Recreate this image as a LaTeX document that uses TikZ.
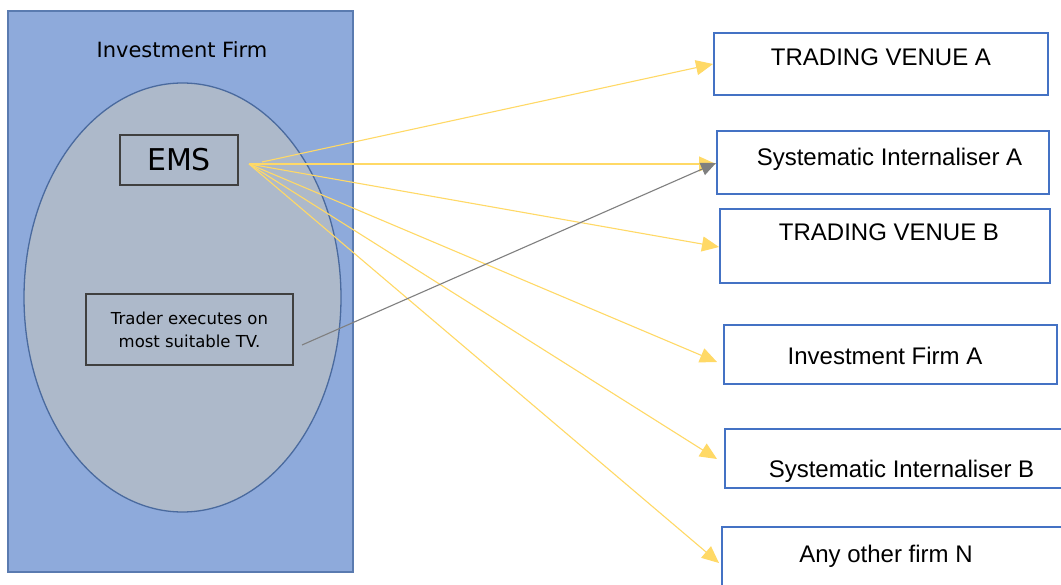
\documentclass[tikz,border=0pt]{standalone}
\usepackage{fontspec}
\setmainfont{Liberation Sans}
\newfontfamily\firmfont{DejaVu Sans}
\usetikzlibrary{arrows.meta,calc,shapes.geometric}
\definecolor{firmblue}{HTML}{8EAADB}
\definecolor{firmedge}{HTML}{5A7BB0}
\definecolor{ovalfill}{HTML}{ADB9CA}
\definecolor{ovaledge}{HTML}{4A6A9E}
\definecolor{boxedge}{HTML}{4472C4}
\definecolor{flowyellow}{HTML}{FFD966}
\definecolor{flowgray}{HTML}{7F7F7F}
\tikzset{
  venue/.style={draw=boxedge, line width=2pt, fill=white, rectangle, inner sep=0pt},
  venuelabel/.style={font=\fontsize{24}{28}\selectfont, inner sep=0pt, anchor=base},
  innerbox/.style={draw=black!75, line width=1.6pt, rectangle, inner sep=0pt},
  yflow/.style={draw=flowyellow, line width=1.1pt, -{Triangle[length=17pt,width=15pt]}},
  gflow/.style={draw=flowgray, line width=1.1pt, -{Triangle[length=15pt,width=13pt]}},
}
\begin{document}
\begin{tikzpicture}[x=1pt,y=-1pt]
\clip (0,0) rectangle (1061,585);
\fill[white] (0,0) rectangle (1061,585);

% investment firm frame and oval
\node[draw=firmedge, line width=1.5pt, fill=firmblue, rectangle, inner sep=0pt,
      minimum width=345pt, minimum height=561pt] (firm) at (180.5,291.5) {};
\node[font=\firmfont\fontsize{21}{24}\selectfont, anchor=base] (firmlabel) at (182,58) {Investment Firm};
\node[draw=ovaledge, line width=1.3pt, fill=ovalfill, ellipse, inner sep=0pt,
      minimum width=317pt, minimum height=429pt] (oval) at (182.5,297.5) {};

% execution management system and trader
\node[innerbox, minimum width=118pt, minimum height=50pt] (ems) at (179,160)
  {\firmfont\fontsize{30}{34}\selectfont EMS};
\node[innerbox, minimum width=207pt, minimum height=71pt, align=center,
      font=\firmfont\fontsize{16.5}{23}\selectfont] (trader) at (189.5,329.5)
  {Trader executes on\\most suitable TV.};

% destination boxes
\node[venue, minimum width=334pt, minimum height=62pt] (tva) at (881,64) {};
\node[venuelabel] (tvalabel) at (881,66) {TRADING VENUE A};
\node[venue, minimum width=332pt, minimum height=63pt] (sia) at (883,162.5) {};
\node[venuelabel] (sialabel) at (889.5,166) {Systematic Internaliser A};
\node[venue, minimum width=330pt, minimum height=74pt] (tvb) at (885,246) {};
\node[venuelabel] (tvblabel) at (889,241) {TRADING VENUE B};
\node[venue, minimum width=333pt, minimum height=59pt] (ifa) at (890.5,354.5) {};
\node[venuelabel] (ifalabel) at (885,365) {Investment Firm A};
\node[venue, minimum width=350pt, minimum height=59pt] (sib) at (900,458.5) {};
\node[venuelabel] (siblabel) at (901.5,477) {Systematic Internaliser B};
\node[venue, minimum width=350pt, minimum height=80pt] (anyn) at (897,567) {};
\node[venuelabel] (anynlabel) at (886,562) {Any other firm N};

% routing fan-out from the EMS
\coordinate (fan) at (249,164);
\coordinate (fantop) at (262,162);
\draw[yflow] (fantop) -- (tva.west);
\draw[yflow] (fan) -- ($(sia.west)+(0,1.5)$);
\draw[yflow] (fan) -- ($(tvb.west)+(0,1)$);
\draw[yflow] (fan) -- ($(ifa.west)+(-6,7.5)$);
\draw[yflow] (fan) -- ($(sib.west)+(-7,0.5)$);
\draw[yflow] (fan) -- ($(anyn.west)+(-2,-4)$);

% trader's direct execution
\coordinate (tradeout) at (302,345);
\draw[gflow] (tradeout) -- ($(sia.west)+(0,0.5)$);
\end{tikzpicture}
\end{document}
